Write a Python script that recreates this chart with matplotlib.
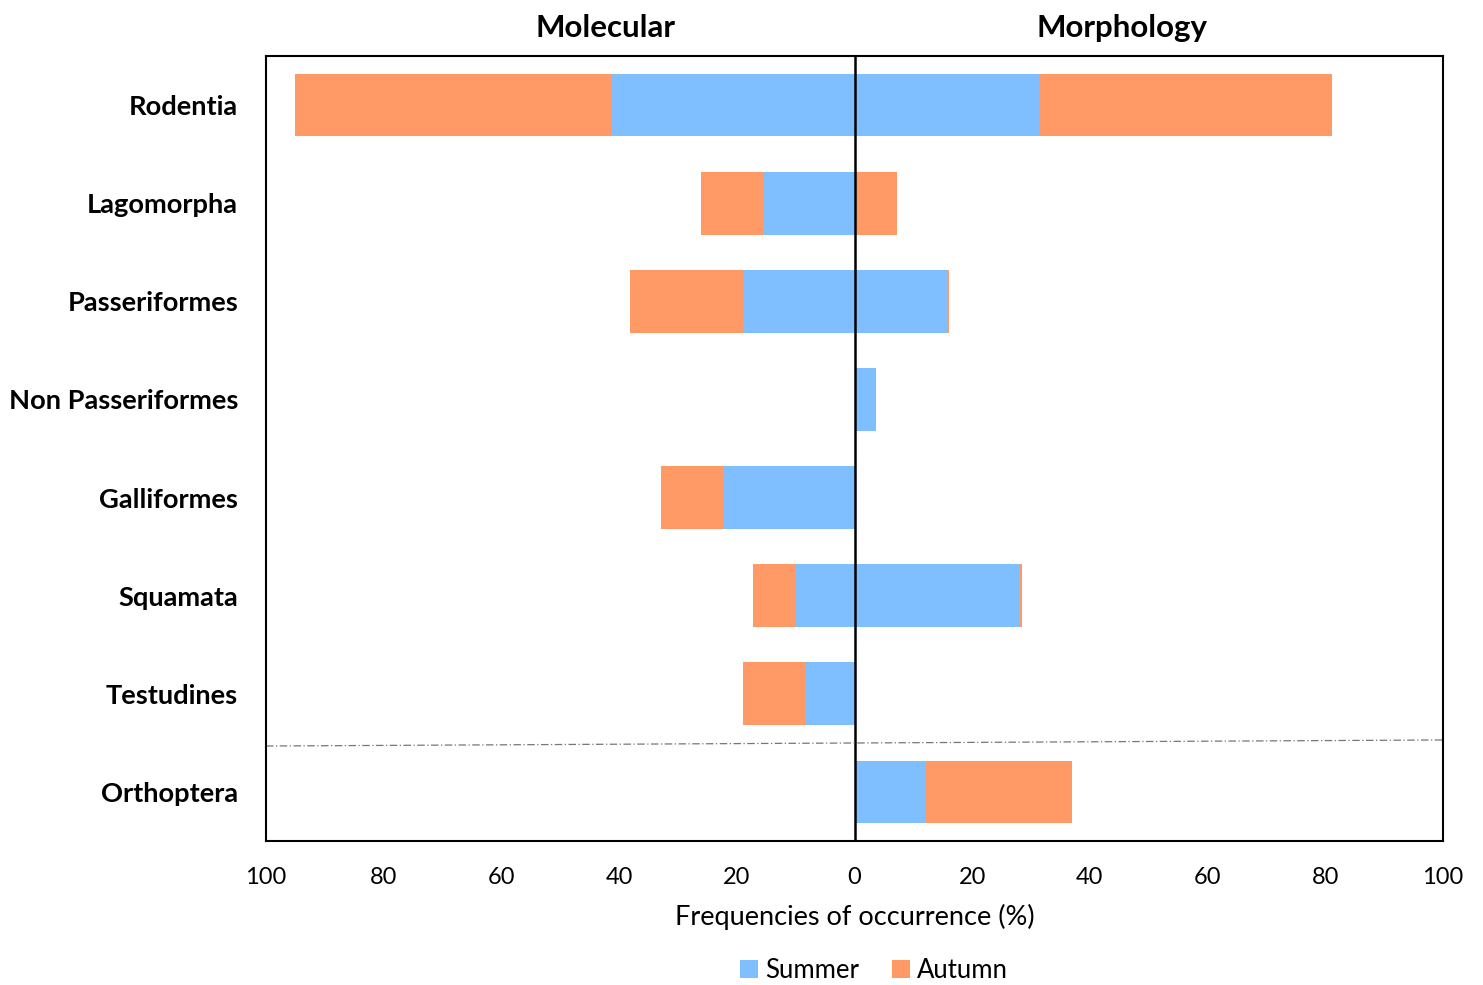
import matplotlib
matplotlib.use("Agg")
import matplotlib.pyplot as plt
import numpy as np

plt.rcParams['font.family'] = ['Lato', 'DejaVu Sans']

categories = ["Rodentia", "Lagomorpha", "Passeriformes", "Non Passeriformes",
              "Galliformes", "Squamata", "Testudines", "Orthoptera"]
mol_summer = [41.3, 15.3, 18.7, 0.0, 22.3, 10.0, 8.3, 0.0]
mol_autumn = [53.7, 10.7, 19.4, 0.0, 10.5, 7.3, 10.7, 0.0]
mor_summer = [31.4, 0.0, 15.8, 3.7, 0.0, 28.2, 0.0, 12.2]
mor_autumn = [49.7, 7.3, 0.3, 0.0, 0.0, 0.3, 0.0, 24.8]
xticks = [-100, -80, -60, -40, -20, 0, 20, 40, 60, 80, 100]
xticklabels = ["100", "80", "60", "40", "20", "0", "20", "40", "60", "80", "100"]

c_sum = "#80BFFF"
c_aut = "#FF9966"

fig = plt.figure(figsize=(14.83, 9.85), dpi=100)
ax = fig.add_axes([266/1483, 1-841/985, (1443-266)/1483, (841-56)/985])

y = np.arange(len(categories))
h = 0.64
ms = np.array(mol_summer); ma = np.array(mol_autumn)
ps = np.array(mor_summer); pa = np.array(mor_autumn)
ax.barh(y, -ms, height=h, color=c_sum, label="Summer")
ax.barh(y, -ma, left=-ms, height=h, color=c_aut, label="Autumn")
ax.barh(y, ps, height=h, color=c_sum)
ax.barh(y, pa, left=ps, height=h, color=c_aut)

ax.set_xlim(-100, 100)
ax.set_ylim(len(categories) - 0.5, -0.5)
ax.axvline(0, color="black", lw=1.8)
ax.plot([0, 1], [0.121, 0.1287], transform=ax.transAxes, color="#777777",
        lw=0.9, linestyle=(0, (6, 2, 1, 2)))

ax.set_yticks(y)
ax.set_yticklabels(categories, fontsize=19.6, fontweight="bold")
ax.set_xticks(xticks)
ax.set_xticklabels(xticklabels, fontsize=17)
ax.tick_params(axis="x", length=0, pad=19)
ax.tick_params(axis="y", length=0, pad=20)
for s in ax.spines.values():
    s.set_linewidth(1.5)
ax.set_xlabel("Frequencies of occurrence (%)", fontsize=19.5, labelpad=11)

ax.text(-42.3, 1.018, "Molecular", transform=ax.get_xaxis_transform(),
        ha="center", va="bottom", fontsize=22.5, fontweight="bold")
ax.text(45.4, 1.018, "Morphology", transform=ax.get_xaxis_transform(),
        ha="center", va="bottom", fontsize=22.5, fontweight="bold")

leg = fig.legend(loc="center", bbox_to_anchor=(874/1483, 1-970/985), ncol=2,
                 frameon=False, fontsize=18.5, handlelength=0.7, handleheight=0.7,
                 columnspacing=1.3, handletextpad=0.25)

fig.savefig("out.png", dpi=100)
